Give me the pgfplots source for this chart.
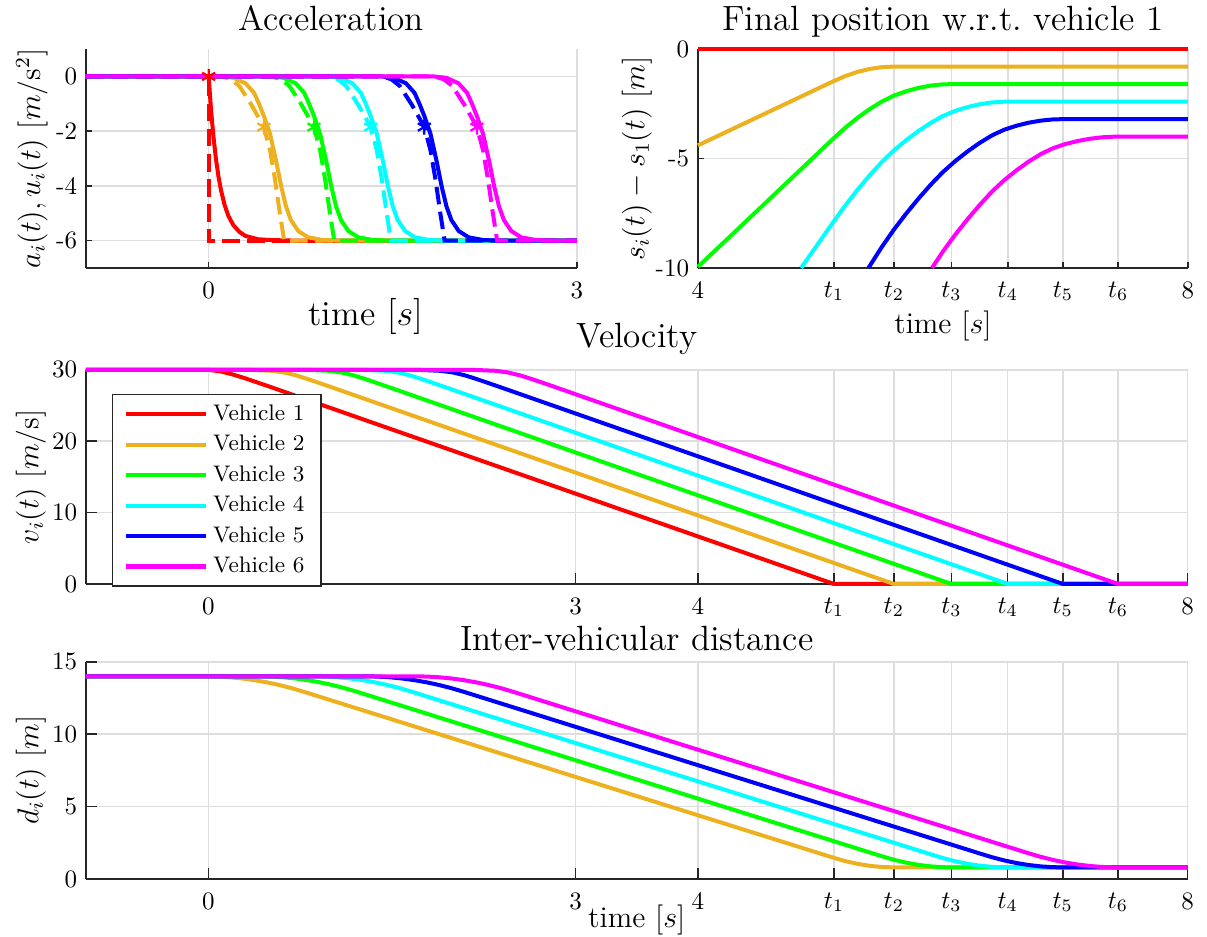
\documentclass[border=0pt]{standalone}
\usepackage{pgfplots}
\pgfplotsset{compat=1.18}
\definecolor{mR}{rgb}{1,0,0}
\definecolor{mO}{rgb}{0.929,0.694,0.125}
\definecolor{mG}{rgb}{0,1,0}
\definecolor{mC}{rgb}{0,1,1}
\definecolor{mB}{rgb}{0,0,1}
\definecolor{mM}{rgb}{1,0,1}
\definecolor{axgray}{rgb}{0.15,0.15,0.15}
\definecolor{gridgray}{rgb}{0.87,0.87,0.87}
\pgfplotsset{
 mystyle/.style={
  scale only axis,
  axis x line*=bottom, axis y line*=left,
  axis line style={axgray, line width=0.6pt},
  every tick/.style={axgray, line width=0.6pt},
  tick align=inside,
  grid=major,
  major grid style={gridgray, line width=0.6pt},
  clip=false,
  tick label style={font=\fontsize{10}{12}\selectfont, text=black},
  xticklabel style={yshift=-2pt},
  label style={font=\fontsize{12}{14}\selectfont},
  every axis plot/.append style={line width=1.6pt},
 },
 xlb/.style 2 args={xlabel style={at={(axis description cs:#1,#2)}, anchor=north, yshift=0pt}},
 ylb/.style={ylabel style={at={(axis description cs:#1,0.5)}, anchor=center}},
 dsh/.style={dash pattern=on 7pt off 3pt},
 star/.style={only marks, mark=asterisk, mark size=3pt, mark options={line width=0.9pt, solid}},
}
\tikzset{ttlnode/.style={font=\fontsize{14}{17}\selectfont, anchor=base, inner sep=0pt}}
\begin{document}
\begin{tikzpicture}
\useasboundingbox (0pt,0pt) rectangle (482pt,-373.8pt);

% ---------------- Acceleration ----------------
\begin{axis}[mystyle, at={(34.3pt,-107pt)}, anchor=south west,
  width=196.1pt, height=87.4pt,
  xmin=-1, xmax=3, ymin=-7, ymax=1,
  xtick={0,3}, xticklabels={0,3},
  ytick={-6,-4,-2,0}, yticklabels={-6,-4,-2,0},
  major tick length=2.4pt,
  xlabel={time $[s]$}, xlb={0.57}{-0.100},
  xlabel style={font=\fontsize{14}{17}\selectfont},
  ylabel={$a_i(t), u_i(t)\ [m/\mathrm{s}^2]$}, ylb=-0.11,
]
\addplot[mR] coordinates {(-1,0) (0,0) (0.02,-1.26) (0.04,-2.25) (0.06,-3.04) (0.08,-3.66) (0.10,-4.15) (0.13,-4.70) (0.16,-5.09) (0.20,-5.43) (0.25,-5.68) (0.30,-5.83) (0.40,-5.95) (0.50,-5.98) (0.70,-6) (3,-6)};
\addplot[mR,dsh] coordinates {(-1,0) (0,0) (0,-6) (3,-6)};
\addplot[mO] coordinates {(-1,0) (0.10,0) (0.20,-0.05) (0.30,-0.25) (0.37,-0.6) (0.41,-1.0) (0.45,-1.45) (0.50,-2.1) (0.55,-3.1) (0.59,-4.0) (0.63,-4.75) (0.67,-5.25) (0.73,-5.65) (0.81,-5.88) (0.93,-5.98) (1.05,-6) (3,-6)};
\addplot[mO,dsh] coordinates {(-1,0) (0.10,0) (0.18,-0.1) (0.25,-0.35) (0.35,-1.05) (0.45,-1.85) (0.50,-2.7) (0.54,-3.75) (0.58,-5.0) (0.615,-6) (3,-6)};
\addplot[mG] coordinates {(-1,0) (0.508,0) (0.608,-0.05) (0.708,-0.25) (0.778,-0.6) (0.818,-1.0) (0.858,-1.45) (0.908,-2.1) (0.958,-3.1) (0.998,-4.0) (1.038,-4.75) (1.078,-5.25) (1.138,-5.65) (1.218,-5.88) (1.338,-5.98) (1.458,-6) (3,-6)};
\addplot[mG,dsh] coordinates {(-1,0) (0.508,0) (0.588,-0.1) (0.658,-0.35) (0.758,-1.05) (0.858,-1.85) (0.908,-2.7) (0.948,-3.75) (0.988,-5.0) (1.023,-6) (3,-6)};
\addplot[mC] coordinates {(-1,0) (0.97,0) (1.07,-0.05) (1.17,-0.25) (1.24,-0.6) (1.28,-1.0) (1.32,-1.45) (1.37,-2.1) (1.42,-3.1) (1.46,-4.0) (1.50,-4.75) (1.54,-5.25) (1.60,-5.65) (1.68,-5.88) (1.80,-5.98) (1.92,-6) (3,-6)};
\addplot[mC,dsh] coordinates {(-1,0) (0.97,0) (1.05,-0.1) (1.12,-0.35) (1.22,-1.05) (1.32,-1.85) (1.37,-2.7) (1.41,-3.75) (1.45,-5.0) (1.485,-6) (3,-6)};
\addplot[mB] coordinates {(-1,0) (1.407,0) (1.507,-0.05) (1.607,-0.25) (1.677,-0.6) (1.717,-1.0) (1.757,-1.45) (1.807,-2.1) (1.857,-3.1) (1.897,-4.0) (1.937,-4.75) (1.977,-5.25) (2.037,-5.65) (2.117,-5.88) (2.237,-5.98) (2.357,-6) (3,-6)};
\addplot[mB,dsh] coordinates {(-1,0) (1.407,0) (1.487,-0.1) (1.557,-0.35) (1.657,-1.05) (1.757,-1.85) (1.807,-2.7) (1.847,-3.75) (1.887,-5.0) (1.922,-6) (3,-6)};
\addplot[mM] coordinates {(-1,0) (1.835,0) (1.935,-0.05) (2.035,-0.25) (2.105,-0.6) (2.145,-1.0) (2.185,-1.45) (2.235,-2.1) (2.285,-3.1) (2.325,-4.0) (2.365,-4.75) (2.405,-5.25) (2.465,-5.65) (2.545,-5.88) (2.665,-5.98) (2.785,-6) (3,-6)};
\addplot[mM,dsh] coordinates {(-1,0) (1.835,0) (1.915,-0.1) (1.985,-0.35) (2.085,-1.05) (2.185,-1.85) (2.235,-2.7) (2.275,-3.75) (2.315,-5.0) (2.35,-6) (3,-6)};
\addplot[mR,star] coordinates {(0,0)};
\addplot[mO,star] coordinates {(0.45,-1.85)};
\addplot[mG,star] coordinates {(0.858,-1.85)};
\addplot[mC,star] coordinates {(1.32,-1.85)};
\addplot[mB,star] coordinates {(1.757,-1.85)};
\addplot[mM,star] coordinates {(2.185,-1.85)};
\node[ttlnode] at (axis description cs:0.5,1.087) {Acceleration};
\end{axis}

% ---------------- Final position ----------------
\begin{axis}[mystyle, at={(278.7pt,-107pt)}, anchor=south west,
  width=195.7pt, height=87.4pt,
  xmin=4, xmax=8, ymin=-10, ymax=0,
  xtick={4,5.11,5.60,6.07,6.53,6.98,7.43,8},
  xticklabels={4,$t_1$,$t_2$,$t_3$,$t_4$,$t_5$,$t_6$,8},
  ytick={-10,-5,0}, yticklabels={-10,-5,0},
  major tick length=2.4pt,
  xlabel={time $[s]$}, xlb={0.5}{-0.155},
  ylabel={$s_i(t) - s_1(t)\ [m]$}, ylb=-0.1245,
]
\addplot[mR] coordinates {(4,0) (8,0)};
\addplot[mO] coordinates {(4,-4.40) (4.2,-3.87) (4.4,-3.34) (4.6,-2.81) (4.8,-2.28) (5.0,-1.75) (5.1,-1.485) (5.2,-1.239) (5.3,-1.047) (5.4,-0.910) (5.5,-0.827) (5.6,-0.8) (8,-0.8)};
\addplot[mG] coordinates {(4,-9.95) (4.2,-8.89) (4.4,-7.83) (4.6,-6.77) (4.8,-5.71) (5.0,-4.65) (5.1,-4.12) (5.2,-3.609) (5.3,-3.152) (5.4,-2.75) (5.5,-2.402) (5.6,-2.127) (5.7,-1.927) (5.8,-1.774) (5.9,-1.669) (6.0,-1.612) (6.1,-1.6) (8,-1.6)};
\addplot[mC] coordinates {(4.842,-10) (5.0,-8.74) (5.1,-7.945) (5.2,-7.169) (5.3,-6.447) (5.4,-5.78) (5.5,-5.167) (5.6,-4.627) (5.7,-4.162) (5.8,-3.744) (5.9,-3.374) (6.0,-3.057) (6.1,-2.825) (6.2,-2.65) (6.3,-2.522) (6.4,-2.439) (6.5,-2.402) (6.55,-2.4) (8,-2.4)};
\addplot[mB] coordinates {(5.392,-10) (5.4,-9.93) (5.5,-9.052) (5.6,-8.247) (5.7,-7.517) (5.8,-6.834) (5.9,-6.199) (6.0,-5.617) (6.1,-5.120) (6.2,-4.68) (6.3,-4.287) (6.4,-3.944) (6.5,-3.685) (6.6,-3.503) (6.7,-3.364) (6.8,-3.268) (6.9,-3.213) (7.0,-3.2) (8,-3.2)};
\addplot[mM] coordinates {(5.911,-10) (6.0,-9.247) (6.1,-8.485) (6.2,-7.78) (6.3,-7.122) (6.4,-6.514) (6.5,-5.990) (6.6,-5.543) (6.7,-5.139) (6.8,-4.794) (6.9,-4.527) (7.0,-4.338) (7.1,-4.199) (7.2,-4.097) (7.3,-4.031) (7.4,-4.002) (7.5,-4.0) (8,-4.0)};
\node[ttlnode] at (axis description cs:0.5,1.087) {Final position w.r.t.\ vehicle 1};
\end{axis}

% ---------------- Velocity ----------------
\begin{axis}[mystyle, at={(34.3pt,-233.2pt)}, anchor=south west,
  width=440pt, height=85.5pt,
  xmin=-1, xmax=8, ymin=0, ymax=30,
  xtick={0,3,4,5.11,5.60,6.07,6.53,6.98,7.43,8},
  xticklabels={0,3,4,$t_1$,$t_2$,$t_3$,$t_4$,$t_5$,$t_6$,8},
  ytick={0,10,20,30},
  major tick length=4.5pt,
  ylabel={$v_i(t)\ [m/\mathrm{s}]$}, ylb=-0.0499,
  legend style={at={(axis description cs:0.0236,-0.014)}, anchor=south west,
     draw=axgray, line width=0.6pt, fill=white, font=\fontsize{9}{11}\selectfont,
     inner xsep=4.5pt, inner ysep=2pt, row sep=0.4pt},
  legend cell align=left,
  legend image code/.code={\draw[#1,line width=1.6pt] (0pt,0pt) -- (32pt,0pt);},
]
\addplot[mR] coordinates {(-1,30) (0,30) (0.1,29.79) (0.2,29.35) (0.3,28.82) (0.5,27.65) (5.11,0) (8,0)};
\addlegendentry{Vehicle 1}
\addplot[mO] coordinates {(-1,30) (0.164,30) (0.364,29.98) (0.514,29.87) (0.614,29.65) (0.714,29.24) (0.794,28.81) (0.874,28.35) (0.994,27.64) (1.114,26.92) (5.60,0) (8,0)};
\addlegendentry{Vehicle 2}
\addplot[mG] coordinates {(-1,30) (0.634,30) (0.834,29.98) (0.984,29.87) (1.084,29.65) (1.184,29.24) (1.264,28.81) (1.344,28.35) (1.464,27.64) (1.584,26.92) (6.07,0) (8,0)};
\addlegendentry{Vehicle 3}
\addplot[mC] coordinates {(-1,30) (1.094,30) (1.294,29.98) (1.444,29.87) (1.544,29.65) (1.644,29.24) (1.724,28.81) (1.804,28.35) (1.924,27.64) (2.044,26.92) (6.53,0) (8,0)};
\addlegendentry{Vehicle 4}
\addplot[mB] coordinates {(-1,30) (1.544,30) (1.744,29.98) (1.894,29.87) (1.994,29.65) (2.094,29.24) (2.174,28.81) (2.254,28.35) (2.374,27.64) (2.494,26.92) (6.98,0) (8,0)};
\addlegendentry{Vehicle 5}
\addplot[mM] coordinates {(-1,30) (1.994,30) (2.194,29.98) (2.344,29.87) (2.444,29.65) (2.544,29.24) (2.624,28.81) (2.704,28.35) (2.824,27.64) (2.944,26.92) (7.43,0) (8,0)};
\addlegendentry{Vehicle 6}
\node[ttlnode] at (axis description cs:0.5,1.103) {Velocity};
\end{axis}

% ---------------- Inter-vehicular distance ----------------
\begin{axis}[mystyle, at={(34.3pt,-351pt)}, anchor=south west,
  width=440pt, height=86.7pt,
  xmin=-1, xmax=8, ymin=0, ymax=15,
  xtick={0,3,4,5.11,5.60,6.07,6.53,6.98,7.43,8},
  xticklabels={0,3,4,$t_1$,$t_2$,$t_3$,$t_4$,$t_5$,$t_6$,8},
  ytick={0,5,10,15},
  major tick length=4.5pt,
  xlabel={time $[s]$}, xlb={0.5}{-0.078},
  ylabel={$d_i(t)\ [m]$}, ylb=-0.0499,
]
\addplot[mO] coordinates {(-1,14) (-0.023,14) (0.077,13.983) (0.177,13.934) (0.277,13.851) (0.377,13.735) (0.477,13.586) (0.577,13.404) (0.677,13.188) (0.777,12.94) (4,4.40) (5.0,1.75) (5.1,1.485) (5.2,1.239) (5.3,1.047) (5.4,0.910) (5.5,0.827) (5.6,0.8) (8,0.8)};
\addplot[mG] coordinates {(-1,14) (0.411,14) (0.511,13.983) (0.611,13.934) (0.711,13.851) (0.811,13.735) (0.911,13.586) (1.011,13.404) (1.111,13.188) (1.211,12.94) (5.4,1.84) (5.515,1.535) (5.6,1.327) (5.7,1.127) (5.8,0.974) (5.9,0.869) (6.0,0.812) (6.07,0.8) (8,0.8)};
\addplot[mC] coordinates {(-1,14) (0.86,14) (0.96,13.983) (1.06,13.934) (1.16,13.851) (1.26,13.735) (1.36,13.586) (1.46,13.404) (1.56,13.188) (1.66,12.94) (5.9,1.705) (6.0,1.445) (6.1,1.2245) (6.2,1.050) (6.3,0.9215) (6.4,0.839) (6.5,0.802) (6.53,0.8) (8,0.8)};
\addplot[mB] coordinates {(-1,14) (1.283,14) (1.383,13.983) (1.483,13.934) (1.583,13.851) (1.683,13.735) (1.783,13.586) (1.883,13.404) (1.983,13.188) (2.083,12.94) (6.3,1.765) (6.4,1.505) (6.5,1.283) (6.6,1.103) (6.7,0.964) (6.8,0.868) (6.9,0.813) (6.98,0.8) (8,0.8)};
\addplot[mM] coordinates {(-1,14) (1.687,14) (1.787,13.983) (1.887,13.934) (1.987,13.851) (2.087,13.735) (2.187,13.586) (2.287,13.404) (2.387,13.188) (2.487,12.94) (6.7,1.775) (6.8,1.526) (6.9,1.314) (7.0,1.138) (7.1,0.999) (7.2,0.897) (7.3,0.831) (7.4,0.802) (7.43,0.8) (8,0.8)};
\node[ttlnode] at (axis description cs:0.5,1.05) {Inter-vehicular distance};
\end{axis}
\end{tikzpicture}
\end{document}
